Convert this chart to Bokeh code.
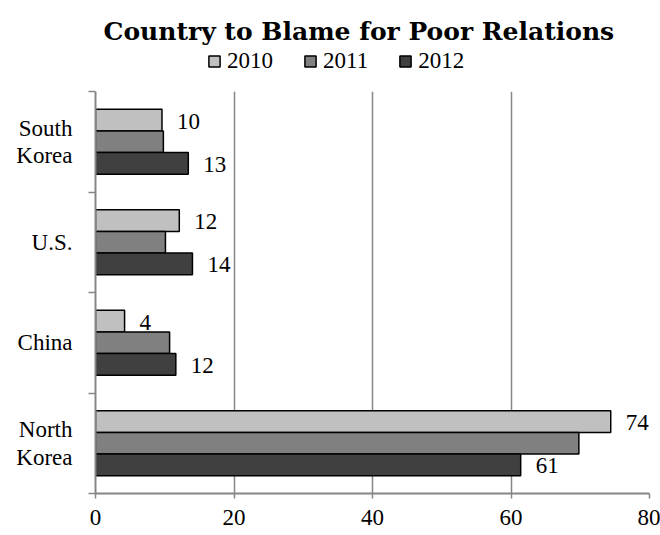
from bokeh.plotting import figure
from bokeh.layouts import column
from bokeh.models import Range1d, FixedTicker, Legend, LegendItem, ColumnDataSource
from bokeh.core.properties import value
from bokeh.embed import file_html
from bokeh.resources import INLINE

countries = ["South Korea", "U.S.", "China", "North Korea"]   # top to bottom
country_labels = ["South\nKorea", "U.S.", "China", "North\nKorea"]
years = ["2010", "2011", "2012"]
v2010 = [9.6, 12.1, 4.2, 74.4]
v2011 = [9.8, 10.1, 10.7, 69.8]
v2012 = [13.4, 14.0, 11.6, 61.4]
lbl2010 = ["10", "12", "4", "74"]
lbl2012 = ["13", "14", "12", "61"]
x_ticks = [0, 20, 40, 60, 80]
colors = ["#c0c0c0", "#808080", "#404040"]
title_text = "Country to Blame for Poor Relations"

n = len(countries)
pos = [n - 1 - i + 0.5 for i in range(n)]
bh = 0.215
offsets = [bh, 0.0, -bh]

SERIF = "Liberation Serif"
GRAY = "#868686"
W = 660

series = [v2010, v2011, v2012]
sources = [ColumnDataSource(dict(y=[q + off for q in pos], right=vals))
           for vals, off in zip(series, offsets)]

# ---- header figure: title + legend (its renderers are hidden; they only feed the legend) ----
top = figure(width=W, height=89, output_backend="svg", toolbar_location=None,
             x_range=Range1d(0, 80), y_range=Range1d(-3, -2),
             x_axis_location=None, y_axis_location=None,
             min_border_left=95, min_border_right=11, min_border_top=45,
             min_border_bottom=0)
top.outline_line_color = None
top.grid.visible = False
top.title.text = title_text
top.title.align = "left"
top.title.offset = 8
top.title.standoff = 0
top.title.text_font = "DejaVu Serif"
top.title.text_font_style = "bold"
top.title.text_font_size = "25px"
top.title.text_color = "black"

leg_r = []
for src, col in zip(sources, colors):
    r = top.hbar(y="y", right="right", left=0, height=bh, source=src,
                 fill_color=col, line_color="black", line_width=1.5)
    r.visible = False
    leg_r.append(r)
legend = Legend(items=[LegendItem(label=y, renderers=[r]) for y, r in zip(years, leg_r)],
                orientation="horizontal", location=(112, 15))
legend.glyph_width = 14
legend.glyph_height = 14
legend.label_standoff = 6
legend.spacing = 30
legend.padding = 0
legend.margin = 0
legend.border_line_color = None
legend.background_fill_alpha = 0
legend.inactive_fill_alpha = 0
legend.label_text_font = SERIF
legend.label_text_font_size = "23px"
legend.label_text_color = "black"
top.add_layout(legend, "center")

# ---- main chart ----
p = figure(width=W, height=446, output_backend="svg", toolbar_location=None,
           x_range=Range1d(0, 80), y_range=Range1d(0, n),
           min_border_left=95, min_border_right=11, min_border_bottom=42,
           min_border_top=2)
p.outline_line_color = None

for src, col in zip(sources, colors):
    p.hbar(y="y", right="right", left=0, height=bh, source=src,
           fill_color=col, line_color="black", line_width=1.5)

for vals, lbls, off in [(v2010, lbl2010, offsets[0]), (v2012, lbl2012, offsets[2])]:
    src = ColumnDataSource(dict(x=vals, y=[q + off for q in pos], t=lbls))
    p.text(x="x", y="y", text="t", source=src, x_offset=15, y_offset=1,
           text_font=value(SERIF), text_font_size="23px", text_color="black",
           text_baseline="middle", text_align="left")

xa = p.xaxis[0]
xa.ticker = FixedTicker(ticks=x_ticks)
xa.axis_line_color = GRAY
xa.axis_line_width = 2
xa.major_tick_line_color = GRAY
xa.major_tick_line_width = 1.5
xa.major_tick_out = 5
xa.major_tick_in = 0
xa.minor_tick_line_color = None
xa.major_label_standoff = 11
xa.major_label_text_font = SERIF
xa.major_label_text_font_size = "23px"
xa.major_label_text_color = "black"

ya = p.yaxis[0]
ya.ticker = FixedTicker(ticks=pos, minor_ticks=list(range(n + 1)))
ya.major_label_overrides = {float(q): lab for q, lab in zip(pos, country_labels)}
ya.axis_line_color = GRAY
ya.axis_line_width = 2
ya.major_tick_line_color = None
ya.major_tick_out = 0
ya.major_tick_in = 0
ya.minor_tick_line_color = GRAY
ya.minor_tick_line_width = 1.5
ya.minor_tick_out = 7
ya.minor_tick_in = 0
ya.major_label_standoff = 16
ya.major_label_text_font = SERIF
ya.major_label_text_font_size = "23px"
ya.major_label_text_color = "black"
ya.major_label_text_align = "center"
ya.major_label_text_line_height = 1.1

p.ygrid.visible = False
p.xgrid.ticker = FixedTicker(ticks=x_ticks[1:])
p.xgrid.grid_line_color = GRAY
p.xgrid.grid_line_width = 1.5

layout = column(top, p, spacing=0)
open("out.html", "w").write(file_html(layout, INLINE))
